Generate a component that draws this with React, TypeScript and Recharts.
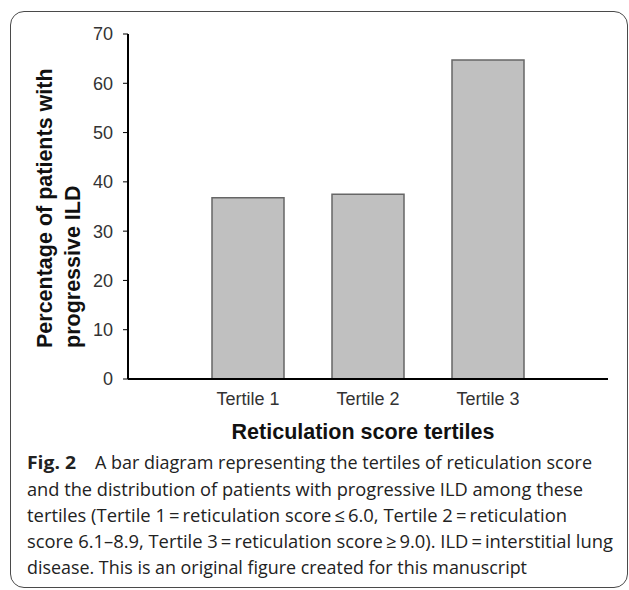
import React from 'react';
import { BarChart, Bar, XAxis, YAxis } from 'recharts';

const categories = ['Tertile 1', 'Tertile 2', 'Tertile 3'];
const progressivePct = [36.8, 37.5, 64.7];
const yTicks = [0, 10, 20, 30, 40, 50, 60, 70];
const yTitleLines = ['Percentage of patients with', 'progressive ILD'];
const xTitle = 'Reticulation score tertiles';
const captionLabel = 'Fig. 2';
const captionLines = [
  'A bar diagram representing the tertiles of reticulation score',
  'and the distribution of patients with progressive ILD among these',
  'tertiles (Tertile 1\u2009=\u2009reticulation score\u2009\u2264\u20096.0, Tertile 2\u2009=\u2009reticulation',
  'score 6.1\u20138.9, Tertile 3\u2009=\u2009reticulation score\u2009\u2265\u20099.0). ILD\u2009=\u2009interstitial lung',
  'disease. This is an original figure created for this manuscript',
];

const data = categories.map((name, i) => ({ name, value: progressivePct[i] }));

const W = 629;
const H = 590;
const PLOT_LEFT = 128;
const PLOT_RIGHT = 608;
const PLOT_TOP = 34;
const PLOT_BOTTOM = 379;
const Y_AXIS_W = 60;
const X_AXIS_H = 30;

const SANS = '"Liberation Sans", Arial, Helvetica, sans-serif';
const CAP_FONT = '"Open Sans", "Noto Sans", sans-serif';

const renderYTitle = () => {
  const y0 = PLOT_BOTTOM - 31;
  return (
    <g>
      {yTitleLines.map((t, i) => {
        const bx = 52 + i * 28;
        return (
          <text
            key={i}
            x={bx}
            y={y0}
            transform={`rotate(-90, ${bx}, ${y0})`}
            fontSize={21.5}
            fontWeight="bold"
            fill="#111"
            fontFamily={SANS}
            textAnchor="start"
          >
            {t}
          </text>
        );
      })}
    </g>
  );
};

const renderXTitle = () => (
  <text
    x={(PLOT_LEFT + PLOT_RIGHT) / 2 - 5}
    y={439}
    fontSize={21.5}
    fontWeight="bold"
    fill="#111"
    fontFamily={SANS}
    textAnchor="middle"
  >
    {xTitle}
  </text>
);

const capStartX = 27;
const capBaselines = [469, 495.5, 522, 548, 574];
const capEnds = [592, 583, 567, 613, 527];

export default function App() {
  return (
    <div style={{ position: 'absolute', left: 0, top: 0, width: W, height: H, background: '#fff' }}>
      <div
        style={{
          position: 'absolute',
          left: 10,
          top: 11,
          width: 618,
          height: 577,
          border: '1px solid #4a4a4a',
          borderRadius: 14,
          boxSizing: 'border-box',
        }}
      />
      <div style={{ position: 'absolute', left: 0, top: 0 }}>
        <BarChart
          width={W}
          height={H}
          data={data}
          margin={{
            top: PLOT_TOP,
            right: W - PLOT_RIGHT,
            left: PLOT_LEFT - Y_AXIS_W,
            bottom: H - PLOT_BOTTOM - X_AXIS_H,
          }}
          style={{ fontFamily: SANS }}
        >
          <XAxis
            dataKey="name"
            height={X_AXIS_H}
            interval={0}
            padding={{ left: 60, right: 60 }}
            tickLine={false}
            tickSize={6}
            tickMargin={7}
            axisLine={{ stroke: '#000', strokeWidth: 2 }}
            tick={{ fontSize: 18, fill: '#333', fontFamily: SANS }}
            label={renderXTitle}
          />
          <YAxis
            width={Y_AXIS_W}
            domain={[0, 70]}
            ticks={yTicks}
            interval={0}
            tickSize={5}
            tickMargin={10}
            tickLine={{ stroke: '#000', strokeWidth: 1 }}
            axisLine={{ stroke: '#000', strokeWidth: 2 }}
            tick={{ fontSize: 18, fill: '#333', fontFamily: SANS }}
            label={renderYTitle}
          />
          <Bar
            dataKey="value"
            barSize={72}
            fill="#c0c0c0"
            stroke="#666"
            strokeWidth={1.5}
            isAnimationActive={false}
          />
        </BarChart>
      </div>
      <svg
        width={W}
        height={H}
        style={{ position: 'absolute', left: 0, top: 0, pointerEvents: 'none' }}
      >
        <text
          x={capStartX}
          y={capBaselines[0]}
          fontSize={18.5}
          fontWeight="bold"
          fill="#222"
          fontFamily={CAP_FONT}
          textLength={49}
          lengthAdjust="spacingAndGlyphs"
        >
          {captionLabel}
        </text>
        {captionLines.map((line, i) => {
          const sx = i === 0 ? 95 : capStartX;
          return (
            <text
              key={i}
              x={sx}
              y={capBaselines[i]}
              fontSize={18.5}
              fill="#222"
              fontFamily={CAP_FONT}
              textLength={capEnds[i] - sx}
              lengthAdjust="spacingAndGlyphs"
            >
              {line}
            </text>
          );
        })}
      </svg>
    </div>
  );
}
